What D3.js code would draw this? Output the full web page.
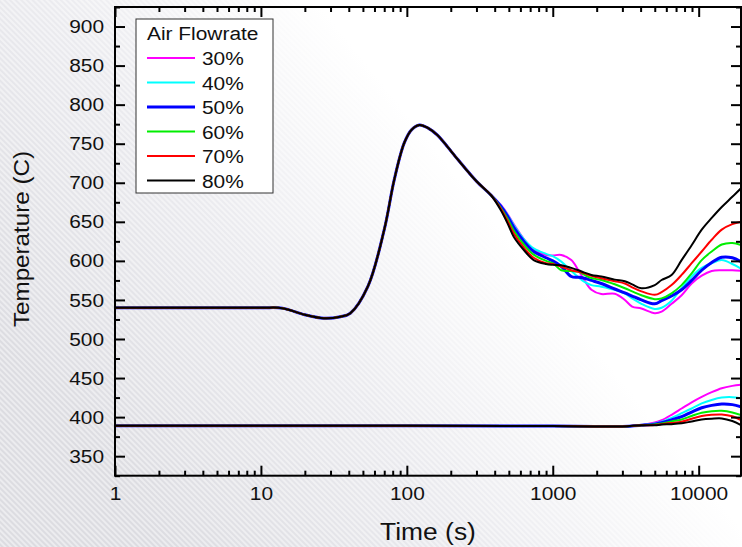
<!DOCTYPE html>
<html>
<head>
<meta charset="utf-8">
<script src="https://cdn.jsdelivr.net/npm/d3@7"></script>
<style>
  body { margin: 0; background: #fff; }
  svg { display: block; font-family: "Liberation Sans", Arial, sans-serif; }
</style>
</head>
<body>
<svg id="chart" width="742" height="547"></svg>
<script>
// ---- data ----
var seriesNames = ["30%", "40%", "50%", "60%", "70%", "80%"]
var seriesColors = ["#ff00ff", "#00ffff", "#0000ff", "#00ee00", "#ff0000", "#000000"]

// upper curves: shared start, then each flowrate on its own
var upperTimeCommon = [1, 10, 14, 20, 27, 35, 41, 54, 70, 82, 96, 108, 122, 140, 162, 223, 300, 378]
var upperTempCommon = [540, 540, 539.5, 531, 526.5, 528.5, 533, 567, 640, 704, 751, 768, 774, 770, 761, 730, 702, 684]

var upperTimeTail = [440, 490, 540, 640, 740, 900, 1000, 1144, 1340, 1500, 1650, 1840, 2150, 2660, 3120, 3500, 4050, 5000, 5570, 6520, 7640, 8950, 10490, 12280, 14390, 17000, 19500]
var upper30 = [672, 660, 647, 627, 615, 607.5, 607, 607.5, 601, 588, 575, 563, 557.5, 558, 550, 541.5, 539, 533, 535, 545, 556, 571, 581, 587, 588, 588, 587.5]
var upper40 = [671, 659, 646, 627, 616, 609, 606, 599, 587, 579, 573, 569, 567, 563, 558, 552, 545, 538.5, 540, 549, 565, 580, 591, 597, 601, 596, 590]
var upper50 = [670, 657, 643, 624, 612, 604, 600, 593, 580, 579, 577.7, 575, 571, 564, 559, 555, 550, 545, 549, 555, 563, 575, 588, 598, 604.6, 604, 599]
var upper60 = [668, 654, 639, 620, 608, 600, 597, 588, 587, 586, 582, 578, 575.5, 570, 565, 561, 556, 551, 552, 558.5, 569, 584, 601, 612, 621, 623, 620.4]
var upper70 = [667, 651, 635, 616, 604, 597, 596, 592.5, 588, 586, 584, 581, 577.7, 574, 571, 566, 561, 556.5, 560, 569, 582, 597, 612, 627, 640, 647, 650]
var upper80 = [665, 648, 631, 613, 601, 596, 595, 594.5, 591, 588, 585, 582, 580, 576, 574, 570, 565, 569, 575.5, 582, 601, 620, 640, 655, 669, 682, 693]

// lower curves: flat start, then they fan out
var lowerTimeCommon = [1, 100, 1000, 2000, 3000]
var lowerTempCommon = [389, 389, 388.5, 388, 388]

var lowerTimeTail = [4050, 5000, 5570, 6520, 7640, 8950, 10490, 12280, 14390, 17000, 19500]
var lower30 = [390, 393, 396, 403, 411, 419, 426, 432, 437, 440, 441.5]
var lower40 = [390, 392, 394, 399, 405, 411, 417.6, 422, 425, 425.5, 424]
var lower50 = [389.5, 391, 393, 396.5, 400.5, 406.5, 412, 415, 416.7, 416, 413.3]
var lower60 = [389.5, 390.5, 392, 394.5, 397, 401.5, 405.6, 407.5, 408, 406, 402.6]
var lower70 = [389.5, 390, 391, 392.5, 394, 398, 401.3, 403, 403.4, 401, 396.2]
var lower80 = [389.5, 389.5, 390.5, 391, 392, 394.5, 397, 398, 398.3, 395, 389.8]

var xTickValues = [1, 10, 100, 1000, 10000]
var yTickValues = [350, 400, 450, 500, 550, 600, 650, 700, 750, 800, 850, 900]

var upperTails = [upper30, upper40, upper50, upper60, upper70, upper80]
var lowerTails = [lower30, lower40, lower50, lower60, lower70, lower80]

function buildSeries(tc, vc, tt, vt) {
  return tc.map(function(t, i) { return {t: t, v: vc[i]}; })
    .concat(tt.map(function(t, i) { return {t: t, v: vt[i]}; }));
}

// ---- chart ----
var svg = d3.select("#chart"),
    margin = {left: 115, right: 1, top: 7, bottom: 71.3},
    W = +svg.attr("width"), H = +svg.attr("height"),
    x0 = margin.left, x1 = W - margin.right,
    y0 = H - margin.bottom, y1 = margin.top;

var defs = svg.append("defs");
var grad = defs.append("linearGradient").attr("id", "bg")
    .attr("gradientUnits", "userSpaceOnUse")
    .attr("x1", 60).attr("y1", 420).attr("x2", 420).attr("y2", 130);
grad.append("stop").attr("offset", 0).attr("stop-color", "#dcdce1");
grad.append("stop").attr("offset", 0.55).attr("stop-color", "#ebebef");
grad.append("stop").attr("offset", 1).attr("stop-color", "#ffffff");

var pat = defs.append("pattern").attr("id", "stripes")
    .attr("patternUnits", "userSpaceOnUse")
    .attr("width", 4).attr("height", 4)
    .attr("patternTransform", "rotate(-45)");
pat.append("rect").attr("width", 2).attr("height", 4).attr("fill", "#ffffff").attr("opacity", 0.45);

defs.append("clipPath").attr("id", "plotclip")
  .append("rect").attr("x", x0).attr("y", y1).attr("width", x1 - x0).attr("height", y0 - y1);

svg.append("rect").attr("width", W).attr("height", H).attr("fill", "url(#bg)");
svg.append("rect").attr("width", W).attr("height", H).attr("fill", "url(#stripes)");

var x = d3.scaleLog().domain([1, 19500]).range([x0, x1]);
var y = d3.scaleLinear().domain([325, 925]).range([y0, y1]);

var line = d3.line()
    .x(function(d) { return x(d.t); })
    .y(function(d) { return y(d.v); })
    .curve(d3.curveCatmullRom.alpha(0.5));

var lines = svg.append("g").attr("clip-path", "url(#plotclip)").attr("fill", "none");

seriesNames.forEach(function(name, i) {
  var w = name === "50%" ? 3 : 2;
  lines.append("path")
    .datum(buildSeries(lowerTimeCommon, lowerTempCommon, lowerTimeTail, lowerTails[i]))
    .attr("stroke", seriesColors[i]).attr("stroke-width", w)
    .attr("d", line);
  lines.append("path")
    .datum(buildSeries(upperTimeCommon, upperTempCommon, upperTimeTail, upperTails[i]))
    .attr("stroke", seriesColors[i]).attr("stroke-width", w)
    .attr("d", line);
});

// minor ticks
var xMinor = [];
for (var e = 0; e < 5; e++) for (var m = 2; m < 10; m++) {
  var v = m * Math.pow(10, e);
  if (v < 19500) xMinor.push(v);
}
var yMinor = d3.range(325, 926, 50);

function styleAxis(g) {
  g.select(".domain").remove();
  g.selectAll("line").attr("stroke", "#000").attr("stroke-width", 2);
}

// bottom
svg.append("g").attr("transform", "translate(0," + y0 + ")")
  .call(d3.axisBottom(x).tickValues(xTickValues).tickSize(-10).tickPadding(11).tickFormat(d3.format("d")))
  .call(styleAxis)
  .selectAll("text").attr("font-size", 19).attr("fill", "#111")
  .attr("font-family", "Liberation Sans, Arial, sans-serif")
  .attr("transform", "scale(1.1,1)");
svg.append("g").attr("transform", "translate(0," + y0 + ")")
  .call(d3.axisBottom(x).tickValues(xMinor).tickSize(-5).tickFormat(""))
  .call(styleAxis);
// top
svg.append("g").attr("transform", "translate(0," + y1 + ")")
  .call(d3.axisTop(x).tickValues(xTickValues).tickSize(-10).tickFormat(""))
  .call(styleAxis);
svg.append("g").attr("transform", "translate(0," + y1 + ")")
  .call(d3.axisTop(x).tickValues(xMinor).tickSize(-5).tickFormat(""))
  .call(styleAxis);
// left
svg.append("g").attr("transform", "translate(" + x0 + ",0)")
  .call(d3.axisLeft(y).tickValues(yTickValues).tickSize(-10).tickPadding(10))
  .call(styleAxis)
  .selectAll("text").attr("font-size", 19).attr("fill", "#111")
  .attr("font-family", "Liberation Sans, Arial, sans-serif")
  .attr("transform", "scale(1.1,1)");
svg.append("g").attr("transform", "translate(" + x0 + ",0)")
  .call(d3.axisLeft(y).tickValues(yMinor).tickSize(-5).tickFormat(""))
  .call(styleAxis);
// right
svg.append("g").attr("transform", "translate(" + x1 + ",0)")
  .call(d3.axisRight(y).tickValues(yTickValues).tickSize(-10).tickFormat(""))
  .call(styleAxis);
svg.append("g").attr("transform", "translate(" + x1 + ",0)")
  .call(d3.axisRight(y).tickValues(yMinor).tickSize(-5).tickFormat(""))
  .call(styleAxis);

// frame
svg.append("rect").attr("x", x0).attr("y", y1)
  .attr("width", x1 - x0).attr("height", y0 - y1)
  .attr("fill", "none").attr("stroke", "#000").attr("stroke-width", 2);

// axis titles
svg.append("text")
  .attr("transform", "translate(" + ((x0 + x1) / 2) + ",540) scale(1.1,1)")
  .attr("text-anchor", "middle").attr("font-size", 24).attr("fill", "#111")
  .text("Time (s)");
svg.append("text")
  .attr("transform", "translate(29,239) rotate(-90) scale(1.1,1)")
  .attr("text-anchor", "middle").attr("font-size", 22).attr("fill", "#111")
  .text("Temperature (C)");

// legend
var lg = svg.append("g").attr("transform", "translate(136,19)");
lg.append("rect").attr("width", 137).attr("height", 174)
  .attr("fill", "#fff").attr("stroke", "#333").attr("stroke-width", 1);
lg.append("text").attr("transform", "translate(11,20.5) scale(1.1,1)")
  .attr("font-size", 19).attr("fill", "#111").text("Air Flowrate");
var item = lg.selectAll(".item").data(seriesNames).enter().append("g")
  .attr("class", "item")
  .attr("transform", function(d, i) { return "translate(0," + (39 + i * 24.5) + ")"; });
item.append("line").attr("x1", 11).attr("x2", 59).attr("y1", 0).attr("y2", 0)
  .attr("stroke", function(d, i) { return seriesColors[i]; })
  .attr("stroke-width", function(d) { return d === "50%" ? 3 : 2; });
item.append("text").attr("transform", "translate(66,7) scale(1.1,1)")
  .attr("font-size", 19).attr("fill", "#111").text(function(d) { return d; });
</script>
</body>
</html>
